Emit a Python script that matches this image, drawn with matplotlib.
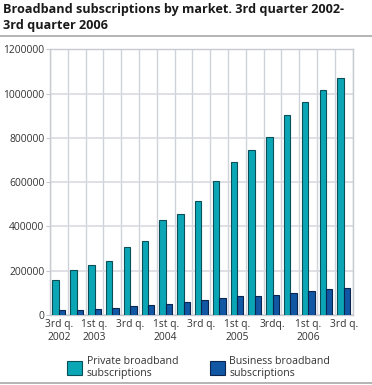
import matplotlib.pyplot as plt
import numpy as np
from matplotlib.lines import Line2D

plt.rcParams['font.family'] = ['Open Sans', 'DejaVu Sans']

# Quarters 3rd q. 2002 - 3rd q. 2006
tick_labels = ["3rd q.\n2002", "", "1st q.\n2003", "", "3rd q.", "", "1st q.\n2004", "",
               "3rd q.", "", "1st q.\n2005", "", "3rdq.", "", "1st q.\n2006", "", "3rd q."]
private = [159000, 201000, 227000, 243000, 307000, 334000, 427000, 454000, 516000,
           603000, 693000, 743000, 802000, 904000, 960000, 1014000, 1071000]
business = [21000, 24000, 27000, 33000, 39000, 44000, 51000, 57000, 66000,
            77000, 84000, 87000, 92000, 101000, 108000, 119000, 123000]

fig = plt.figure(figsize=(3.72, 3.85), dpi=100)
ax = fig.add_axes([50/372, 1-315/385, 302.7/372, 265.7/385])

x = np.arange(len(private))
w = 0.36
b1 = ax.bar(x - w/2, private, w, color='#0aa6b6', edgecolor='#0b4f58', linewidth=0.8,
            label="Private broadband\nsubscriptions", zorder=3)
b2 = ax.bar(x + w/2, business, w, color='#1157a4', edgecolor='#0a2550', linewidth=0.8,
            label="Business broadband\nsubscriptions", zorder=3)

ax.set_xlim(-0.5, len(private) - 0.5)
ax.set_ylim(0, 1200000)
ax.set_yticks(range(0, 1200001, 200000))
ax.set_yticklabels([str(v) for v in range(0, 1200001, 200000)])
ax.set_xticks(x)
ax.set_xticklabels(tick_labels, linespacing=1.2)
ax.set_xticks(np.arange(-0.5, len(private), 1), minor=True)

ax.grid(axis='y', color='#d9dae0', linewidth=1.2, zorder=0)
ax.grid(axis='x', which='minor', color='#d0d2da', linewidth=1.0, zorder=0)
ax.tick_params(axis='x', which='both', length=0, pad=3, labelsize=7.4, colors='#333333')
ax.tick_params(axis='y', length=3, color='#c8c8d0', pad=1, labelsize=7.4, colors='#333333')
for s in ax.spines.values():
    s.set_color('#c8cad2')
    s.set_linewidth(1.0)

fig.text(3/372, 1-3.5/385, "Broadband subscriptions by market. 3rd quarter 2002-\n3rd quarter 2006",
         fontsize=9.1, fontweight='bold', color='#1a1a1a', va='top', ha='left', linespacing=1.2)
fig.add_artist(Line2D([0, 1], [1-36/385, 1-36/385], color='#a8a8a8', linewidth=1.2))
fig.add_artist(Line2D([0, 1], [1-382.5/385, 1-382.5/385], color='#a8a8a8', linewidth=1.2))

fig.legend(handles=[b1, b2], loc='upper left', bbox_to_anchor=(67/372, 1-355.5/385), ncol=2,
           frameon=False, fontsize=7.6, handlelength=1.45, handleheight=1.65,
           handletextpad=0.4, columnspacing=3.0, borderpad=0, borderaxespad=0,
           labelspacing=0, labelcolor='#333333')

fig.savefig("out.png", dpi=100)
